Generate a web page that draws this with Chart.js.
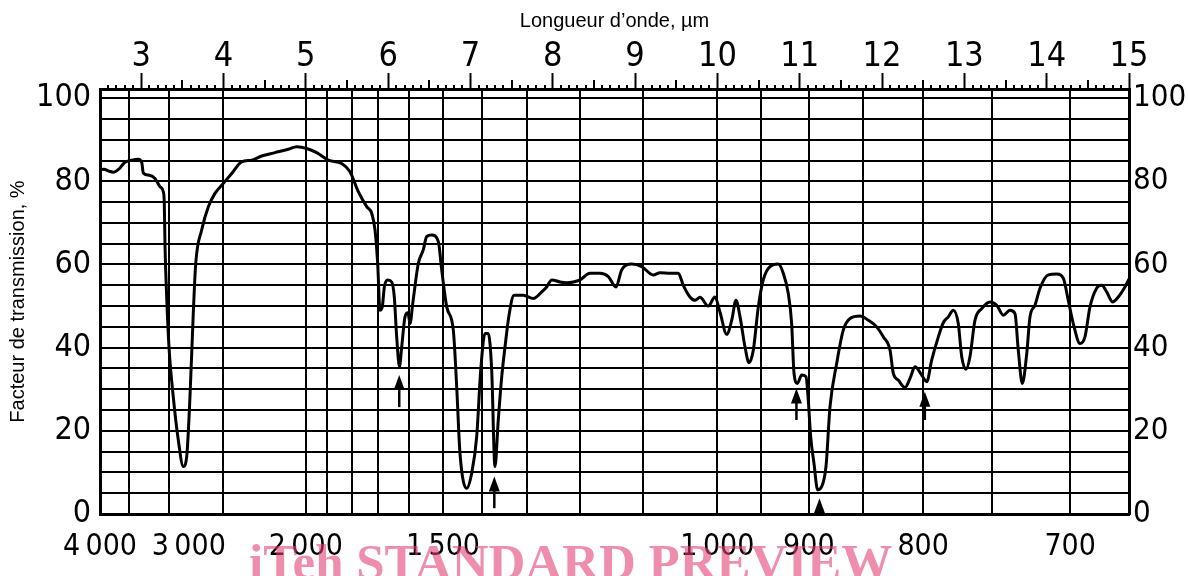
<!DOCTYPE html>
<html><head><meta charset="utf-8">
<script src="https://cdn.jsdelivr.net/npm/chart.js@4.4.1/dist/chart.umd.min.js"></script>
<style>html,body{margin:0;padding:0;background:#fff}#wrap{width:1188px;height:576px;position:relative}</style>
</head><body><div id="wrap"><canvas id="c" width="1188" height="576"></canvas></div>
<script>
// wavelength (µm) of each traced point
const wavelengthUm = [2.500,2.549,2.601,2.662,2.707,2.743,2.792,2.828,2.885,2.965,
3.007,3.026,3.087,3.168,3.229,3.269,3.281,3.290,3.310,3.338,
3.390,3.451,3.512,3.553,3.593,3.633,3.663,3.735,3.816,3.897,
3.998,4.100,4.221,4.343,4.464,4.626,4.787,4.889,5.011,5.132,
5.273,5.436,5.537,5.638,5.740,5.801,5.841,5.873,5.901,5.929,
5.954,5.995,6.044,6.075,6.104,6.138,6.165,6.205,6.241,6.266,
6.299,6.367,6.427,6.468,6.529,6.610,6.651,6.712,6.792,6.833,
6.873,6.955,7.015,7.076,7.125,7.177,7.217,7.258,7.298,7.338,
7.380,7.420,7.472,7.529,7.642,7.764,7.866,7.926,7.987,8.088,
8.169,8.250,8.331,8.452,8.574,8.675,8.768,8.837,8.959,9.080,
9.221,9.303,9.424,9.525,9.586,9.667,9.728,9.789,9.889,9.971,
10.032,10.113,10.174,10.226,10.275,10.335,10.384,10.436,10.497,10.557,
10.639,10.740,10.800,10.861,10.902,10.931,10.971,11.024,11.076,11.104,
11.133,11.173,11.218,11.267,11.319,11.368,11.449,11.529,11.611,11.732,
11.833,11.935,12.015,12.097,12.137,12.197,12.279,12.340,12.400,12.482,
12.543,12.603,12.684,12.744,12.805,12.866,12.926,12.968,13.020,13.068,
13.129,13.211,13.311,13.393,13.473,13.554,13.615,13.655,13.704,13.758,
13.797,13.858,13.919,14.020,14.122,14.202,14.262,14.323,14.405,14.465,
14.526,14.607,14.668,14.729,14.802,14.870,14.951,15.000];
// transmission (%) at each point
const transmissionPct = [82.8,82.9,82.5,82.2,82.6,83.2,84.4,84.8,85.1,85.3,
84.5,82.0,81.5,80.7,78.7,77.5,74.7,64.3,52.2,40.2,
28.2,17.8,11.4,13.8,28.2,48.2,60.3,68.3,73.9,77.1,
79.5,81.9,84.7,85.1,86.1,86.9,87.7,88.3,87.9,86.9,
85.1,84.3,82.3,77.5,73.9,72.3,68.3,60.3,49.0,49.8,
54.6,56.3,55.8,52.2,42.6,35.4,40.2,47.4,48.4,45.8,
50.6,60.3,63.5,66.7,67.1,65.5,58.7,49.8,44.2,30.6,
14.6,6.2,9.8,18.6,34.6,43.4,43.4,34.6,11.4,22.6,
33.0,40.2,48.2,52.6,52.6,51.8,53.4,54.6,56.3,55.8,
55.6,55.8,56.3,57.9,57.9,57.1,54.6,58.7,60.1,59.5,
57.5,58.0,57.9,57.9,55.0,52.2,51.4,52.1,50.0,52.2,
48.5,43.2,46.6,51.4,47.4,40.2,36.4,39.4,49.8,56.3,
59.5,60.1,57.9,53.0,45.8,33.8,31.4,33.4,33.0,27.4,
18.6,12.2,5.8,6.6,11.4,25.8,36.2,44.2,47.0,47.6,
46.6,45.0,42.6,39.4,33.8,32.2,30.4,32.6,35.4,33.4,
31.8,37.0,42.6,46.0,47.4,49.0,45.8,37.8,34.8,37.8,
46.6,49.4,51.0,50.2,47.8,49.0,48.2,39.4,31.4,38.6,
47.4,50.2,54.3,57.5,57.7,56.7,51.4,45.8,41.0,42.6,
49.8,54.3,55.0,53.4,51.0,52.2,54.6,56.5];

// wavenumber grid (cm⁻¹) and bottom labels
const gridWavenumbers = [4000,3500,3000,2500,2000,1900,1800,1700,1600,1500,1400,1300,1200,1100,1000,950,900,850,800,750,700];
const labelWavenumbers = [4000,3000,2000,1500,1000,900,800,700];
const labelWavenumberText = ['4\u2009000','3\u2009000','2\u2009000','1\u2009500','1\u2009000','900','800','700'];
// top wavelength ticks
const topTickLabels = [3,4,5,6,7,8,9,10,11,12,13,14,15];
// transmission grid and labels
const yGridValues = [0,5,10,15,20,25,30,35,40,45,50,55,60,65,70,75,80,85,90,95,100];
const yLabelValues = [0,20,40,60,80,100];
// annotation arrows (µm, tip %, tail %)
const arrowX = [6.135, 7.290, 10.960, 11.240, 12.520];
const arrowTip = [33.4, 9.0, 30.2, 3.8, 29.4];
const arrowTail = [25.7, 1.4, 22.6, 0.2, 22.6];

const X_MIN = 2.5, X_MAX = 15, Y_MIN = 0, Y_MAX = 102.2;
const NUM_FONT = '"Liberation Sans Narrow", "DejaVu Sans Condensed", sans-serif';
const TXT_FONT = '"Liberation Sans", Arial, sans-serif';

const minorTicks = {
  id: 'minorTicks',
  afterDraw(chart) {
    const s = chart.scales.xTop, ctx = chart.ctx, top = chart.chartArea.top;
    ctx.save(); ctx.strokeStyle = '#000'; ctx.lineWidth = 2;
    const n = Math.round((X_MAX - X_MIN) * 10);
    for (let i = 1; i < n; i++) {
      const v = X_MIN + i / 10;
      const tenth = Math.round(v * 10) % 10;
      if (tenth === 0) continue;
      const len = tenth === 5 ? 9 : 4;
      const px = Math.round(s.getPixelForValue(v));
      ctx.beginPath(); ctx.moveTo(px, top); ctx.lineTo(px, top - len); ctx.stroke();
    }
    ctx.restore();
  }
};

const arrows = {
  id: 'arrows',
  afterDatasetsDraw(chart) {
    const xs = chart.scales.x, ys = chart.scales.y, ctx = chart.ctx;
    ctx.save(); ctx.strokeStyle = '#000'; ctx.fillStyle = '#000'; ctx.lineWidth = 2.5;
    arrowX.forEach((v, i) => {
      const px = xs.getPixelForValue(v);
      const tip = ys.getPixelForValue(arrowTip[i]);
      const tail = ys.getPixelForValue(arrowTail[i]);
      const head = Math.min(15, tail - tip);
      ctx.beginPath(); ctx.moveTo(px, tail); ctx.lineTo(px, tip + head - 1); ctx.stroke();
      ctx.beginPath(); ctx.moveTo(px, tip); ctx.lineTo(px - 5.5, tip + head); ctx.lineTo(px + 5.5, tip + head); ctx.closePath(); ctx.fill();
    });
    ctx.restore();
  }
};

const watermark = {
  id: 'watermark',
  afterDraw(chart) {
    const ctx = chart.ctx;
    ctx.save();
    ctx.font = 'bold 51px "Liberation Serif", "Times New Roman", serif';
    ctx.fillStyle = 'rgba(228,60,112,0.58)';
    ctx.textBaseline = 'alphabetic'; ctx.textAlign = 'left';
    ctx.fillText('iTeh STANDARD PREVIEW', 249, 579);
    ctx.restore();
  }
};

new Chart(document.getElementById('c'), {
  type: 'line',
  data: {
    datasets: [{
      data: wavelengthUm.map((x, i) => ({ x, y: transmissionPct[i] })),
      borderColor: '#000', borderWidth: 3, pointRadius: 0,
      cubicInterpolationMode: 'monotone', fill: false,
      xAxisID: 'x', yAxisID: 'y'
    }]
  },
  options: {
    responsive: false, animation: false, devicePixelRatio: 1,
    layout: { padding: 0 },
    plugins: { legend: { display: false }, tooltip: { enabled: false } },
    scales: {
      x: {
        type: 'linear', position: 'bottom', min: X_MIN, max: X_MAX,
        afterBuildTicks: s => { s.ticks = gridWavenumbers.map(w => ({ value: 1e4 / w })); },
        ticks: {
          autoSkip: false, maxRotation: 0, minRotation: 0, color: '#000', padding: 15,
          font: { family: NUM_FONT, size: 30 },
          callback: v => {
            const w = Math.round(1e4 / v);
            const k = labelWavenumbers.indexOf(w);
            if (k < 0) return '';
            // the crowded 3 000 label sits right of its grid line, as in the original print
            return (w === 3000 ? '\u2002\u2002\u2002' : '') + labelWavenumberText[k];
          }
        },
        grid: { color: '#000', lineWidth: 2, drawTicks: false },
        border: { color: '#000', width: 3 },
        afterFit: s => { s.height = 62; }
      },
      xTop: {
        type: 'linear', position: 'top', min: X_MIN, max: X_MAX,
        afterBuildTicks: s => { s.ticks = topTickLabels.map(v => ({ value: v })); },
        ticks: { autoSkip: false, maxRotation: 0, color: '#000', padding: -5, font: { family: NUM_FONT, size: 34 } },
        grid: { drawOnChartArea: false, drawTicks: true, tickLength: 16, tickColor: '#000', tickWidth: 2 },
        border: { color: '#000', width: 3 },
        title: { display: true, text: 'Longueur d\u2019onde, \u00b5m', color: '#000', font: { family: TXT_FONT, size: 20 }, padding: { top: 9, bottom: 0 } },
        afterFit: s => { s.height = 89; }
      },
      y: {
        type: 'linear', position: 'left', min: Y_MIN, max: Y_MAX,
        afterBuildTicks: s => { s.ticks = yGridValues.map(v => ({ value: v })); },
        ticks: { autoSkip: false, color: '#000', padding: 9, font: { family: NUM_FONT, size: 32 },
          callback: v => yLabelValues.includes(v) ? String(v) : '' },
        grid: { color: '#000', lineWidth: 2, drawTicks: false },
        border: { color: '#000', width: 3 },
        title: { display: true, text: 'Facteur de transmission, %', color: '#000', font: { family: TXT_FONT, size: 20 }, padding: { top: 6, bottom: 0 } },
        afterFit: s => { s.width = 100; }
      },
      y2: {
        type: 'linear', position: 'right', min: Y_MIN, max: Y_MAX,
        afterBuildTicks: s => { s.ticks = yLabelValues.map(v => ({ value: v })); },
        ticks: { autoSkip: false, color: '#000', padding: 4, font: { family: NUM_FONT, size: 31 } },
        grid: { drawOnChartArea: false, drawTicks: false },
        border: { color: '#000', width: 3 },
        afterFit: s => { s.width = 59; }
      }
    }
  },
  plugins: [minorTicks, arrows, watermark]
});
</script>
</body></html>
